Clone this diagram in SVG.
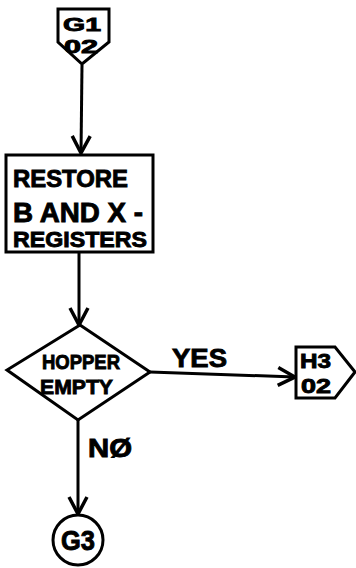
<svg xmlns="http://www.w3.org/2000/svg" width="356" height="568" viewBox="0 0 356 568">
<defs>
<style>
.shape{fill:#fff;stroke:#000;stroke-width:3;stroke-linejoin:miter}
.line{fill:none;stroke:#000;stroke-width:3}
.t{font-family:"Liberation Sans","DejaVu Sans",sans-serif;font-weight:bold;fill:#000;stroke:#000;stroke-width:0.9}
</style>
<marker id="arr" markerUnits="userSpaceOnUse" markerWidth="24" markerHeight="24" viewBox="-20 -12 24 24" refX="0" refY="0" orient="auto">
<path d="M-17,-9 L0,0 L-17,9" fill="none" stroke="#000" stroke-width="3.5"/>
</marker>
</defs>
<rect width="356" height="568" fill="#fff"/>
<g id="connectors">
<line class="line" x1="82" y1="65" x2="81" y2="153" marker-end="url(#arr)"/>
<line class="line" x1="79" y1="252" x2="79" y2="325" marker-end="url(#arr)"/>
<line class="line" x1="150" y1="372" x2="295" y2="377" marker-end="url(#arr)"/>
<line class="line" x1="78" y1="420" x2="78" y2="514" marker-end="url(#arr)"/>
<text class="t" x="172" y="367" font-size="26" textLength="55" lengthAdjust="spacingAndGlyphs">YES</text>
<text class="t" x="88" y="457" font-size="26" textLength="44" lengthAdjust="spacingAndGlyphs">NØ</text>
</g>
<g id="start">
<polygon class="shape" points="58,9 109,9 109,42 82,64 58,42"/>
<text class="t" x="63" y="31" font-size="19" textLength="38" lengthAdjust="spacingAndGlyphs">G1</text>
<text class="t" x="64" y="53" font-size="19" textLength="34" lengthAdjust="spacingAndGlyphs">02</text>
</g>
<g id="restore">
<rect class="shape" x="6" y="155" width="147" height="97"/>
<text class="t" x="13" y="187" font-size="24" textLength="115" lengthAdjust="spacingAndGlyphs">RESTORE</text>
<text class="t" x="13" y="222" font-size="27" textLength="130" lengthAdjust="spacingAndGlyphs">B  AND X -</text>
<text class="t" x="13" y="247" font-size="22" textLength="134" lengthAdjust="spacingAndGlyphs">REGISTERS</text>
</g>
<g id="hopper">
<polygon class="shape" points="80,325 150,372 78,420 7,370"/>
<text class="t" x="42" y="369" font-size="21" textLength="78" lengthAdjust="spacingAndGlyphs">HOPPER</text>
<text class="t" x="40" y="394" font-size="21" textLength="73" lengthAdjust="spacingAndGlyphs">EMPTY</text>
</g>
<g id="h3">
<polygon class="shape" points="296,347 335,347 355,372 335,398 296,398"/>
<text class="t" x="300" y="368" font-size="21" textLength="31" lengthAdjust="spacingAndGlyphs">H3</text>
<text class="t" x="301" y="393" font-size="21" textLength="30" lengthAdjust="spacingAndGlyphs">02</text>
</g>
<g id="g3">
<circle class="shape" cx="78" cy="540" r="25"/>
<text class="t" x="61" y="550" font-size="27" textLength="34" lengthAdjust="spacingAndGlyphs">G3</text>
</g>
</svg>
